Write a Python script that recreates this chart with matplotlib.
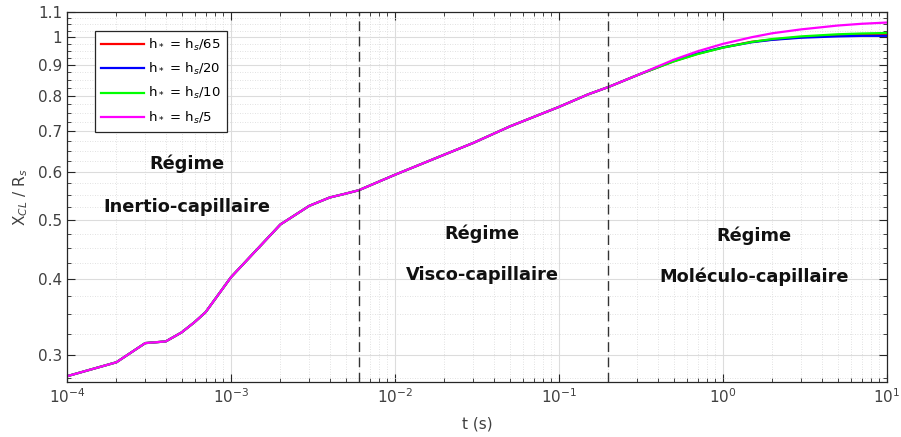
import numpy as np
import matplotlib
matplotlib.use("Agg")
from matplotlib import pyplot as plt
from matplotlib.ticker import FixedLocator, NullFormatter, LogLocator

# temps (s)
t = [1e-4, 2e-4, 3e-4, 4e-4, 5e-4, 6e-4, 7e-4, 1e-3, 2e-3, 3e-3, 4e-3, 5e-3, 6e-3,
     1e-2, 2e-2, 3e-2, 5e-2, 1e-1, 0.15, 0.2, 0.3, 0.5, 0.7, 1, 1.5, 2, 3, 5, 7, 10]

# partie commune (inertio + visco) puis fin specifique a chaque courbe
debut = [0.277, 0.292, 0.314, 0.316, 0.327, 0.340, 0.353, 0.403, 0.492, 0.528, 0.545, 0.553, 0.560,
         0.594, 0.641, 0.670, 0.713, 0.768, 0.805, 0.828, 0.866]

fin_65 = [0.913, 0.939, 0.962, 0.983, 0.991, 1.000, 1.007, 1.009, 1.010]
fin_20 = [0.914, 0.940, 0.962, 0.981, 0.990, 0.998, 1.003, 1.005, 1.005]
fin_10 = [0.912, 0.938, 0.961, 0.982, 0.993, 1.003, 1.011, 1.014, 1.016]
fin_5 = [0.918, 0.948, 0.975, 1.000, 1.015, 1.030, 1.045, 1.052, 1.057]

labels = [r"h$_*$ = h$_s$/65", r"h$_*$ = h$_s$/20", r"h$_*$ = h$_s$/10", r"h$_*$ = h$_s$/5"]
couleurs = ["#ff0000", "#0000ff", "#00ff00", "#ff00ff"]

# limites entre regimes
t_limites = [6e-3, 0.2]

regimes = [("Régime", "Inertio-capillaire", 5.4e-4, 0.619, 0.526),
           ("Régime", "Visco-capillaire", 3.4e-2, 0.475, 0.407),
           ("Régime", "Moléculo-capillaire", 1.55, 0.472, 0.403)]

yticks = [0.3, 0.4, 0.5, 0.6, 0.7, 0.8, 0.9, 1.0, 1.1]
yticklabels = ["0.3", "0.4", "0.5", "0.6", "0.7", "0.8", "0.9", "1", "1.1"]

# ======================================================================================================================

fig = plt.figure(figsize=(9.01, 4.37), dpi=100)
ax = fig.add_axes([67 / 901, 1 - 382 / 437, 820 / 901, 370 / 437])

for fin, lab, c in zip([fin_65, fin_20, fin_10, fin_5], labels, couleurs):
    ax.plot(t, debut + fin, color=c, lw=1.6, label=lab)

for tl in t_limites:
    ax.axvline(tl, color="#333333", lw=1.0, ls=(0, (7, 4)))

ax.set_xscale("log")
ax.set_yscale("log")
ax.set_xlim(1e-4, 10)
ax.set_ylim(0.271, 1.1)

ax.yaxis.set_major_locator(FixedLocator(yticks))
ax.set_yticklabels(yticklabels)
ax.yaxis.set_minor_locator(FixedLocator(np.arange(0.275, 1.1, 0.025)))
ax.yaxis.set_minor_formatter(NullFormatter())
ax.xaxis.set_major_locator(LogLocator(base=10, numticks=10))
ax.xaxis.set_minor_locator(LogLocator(base=10, subs=np.arange(2, 10), numticks=10))
ax.xaxis.set_minor_formatter(NullFormatter())

ax.tick_params(which="both", direction="in", top=True, right=True, colors="#262626",
               labelcolor="#404040", labelsize=11)
ax.tick_params(which="major", length=6, width=0.8)
ax.tick_params(which="minor", length=3, width=0.6)

ax.grid(True, which="major", color="#dcdcdc", lw=0.8, ls="-")
ax.grid(True, which="minor", color="#d8d8d8", lw=0.6, ls=(0, (1, 2)))
ax.set_axisbelow(True)
for s in ax.spines.values():
    s.set_color("#262626")
    s.set_linewidth(0.9)

for l1, l2, x, y1, y2 in regimes:
    ax.text(x, y1, l1, ha="center", va="center", fontsize=12.8, fontweight="bold", color="#111111")
    ax.text(x, y2, l2, ha="center", va="center", fontsize=12.8, fontweight="bold", color="#111111")

ax.set_xlabel("t (s)", fontsize=11, color="#404040", labelpad=8)
ax.set_ylabel(r"X$_{CL}$ / R$_s$", fontsize=11, color="#404040", labelpad=6)

leg = ax.legend(loc="upper left", bbox_to_anchor=(0.034, 0.949), borderaxespad=0, fontsize=9.5,
                handlelength=3.3, labelspacing=0.62, fancybox=False, framealpha=1,
                edgecolor="#262626", borderpad=0.45, handletextpad=0.3)
leg.get_frame().set_linewidth(0.9)

fig.savefig("out.png", dpi=100)
